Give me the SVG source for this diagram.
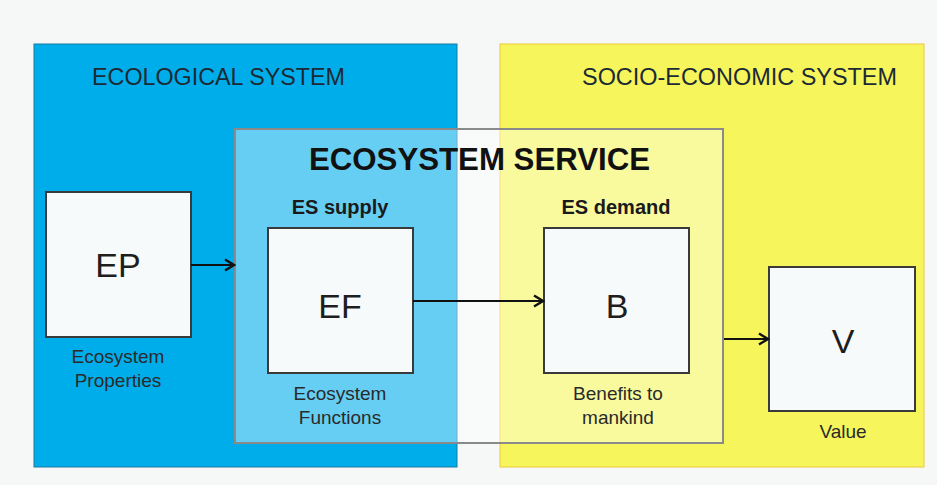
<svg xmlns="http://www.w3.org/2000/svg" width="937" height="485" viewBox="0 0 937 485">
<defs>
<marker id="arr" markerWidth="14" markerHeight="14" refX="12" refY="7" orient="auto" markerUnits="userSpaceOnUse">
<polyline points="3,1.5 12,7 3,12.5" fill="none" stroke="#111" stroke-width="2.4" stroke-linejoin="miter"/>
</marker>
</defs>
<style>
text{font-family:"Liberation Sans",Arial,sans-serif;fill:#1e1e1e}
.sys{font-size:23px;fill:#1c2a34}
.title{font-size:31px;font-weight:bold;fill:#111}
.sub{font-size:20px;font-weight:bold;fill:#1a1a1a}
.big{font-size:34px;text-anchor:middle}
.lbl{font-size:19px;text-anchor:middle;fill:#2a2a2a}
.box{fill:#f7fafa;stroke:#3a3a3a;stroke-width:2}
.conn{stroke:#111;stroke-width:2.2;fill:none;marker-end:url(#arr)}
</style>
<rect width="937" height="485" fill="#f6f8f8"/>
<g id="ecological-system">
<rect x="34" y="44" width="423" height="423" fill="#00adeb" stroke="#1878a0" stroke-width="1"/>
<text class="sys" x="92" y="85" textLength="253" lengthAdjust="spacingAndGlyphs">ECOLOGICAL SYSTEM</text>
</g>
<g id="socio-economic-system">
<rect x="500" y="44" width="424" height="423" fill="#f6f65c" stroke="#f0c838" stroke-width="1"/>
<text class="sys" x="582" y="85" textLength="315" lengthAdjust="spacingAndGlyphs">SOCIO-ECONOMIC SYSTEM</text>
</g>
<g id="ecosystem-service">
<rect x="235" y="129" width="488" height="314" fill="#ffffff" fill-opacity="0.4" stroke="#8a8a8a" stroke-width="2"/>
<text class="title" x="309" y="170" textLength="341" lengthAdjust="spacingAndGlyphs">ECOSYSTEM SERVICE</text>
<text class="sub" x="340" y="214" text-anchor="middle">ES supply</text>
<text class="sub" x="616" y="214" text-anchor="middle">ES demand</text>
</g>
<g id="EP">
<rect class="box" x="46" y="192" width="145" height="145"/>
<text class="big" x="118" y="277">EP</text>
<text class="lbl" x="118" y="363">Ecosystem</text>
<text class="lbl" x="118" y="387">Properties</text>
</g>
<g id="EF">
<rect class="box" x="268" y="228" width="145" height="145"/>
<text class="big" x="340" y="318">EF</text>
<text class="lbl" x="340" y="400">Ecosystem</text>
<text class="lbl" x="340" y="424">Functions</text>
</g>
<g id="B">
<rect class="box" x="544" y="228" width="145" height="145"/>
<text class="big" x="617" y="318">B</text>
<text class="lbl" x="618" y="400">Benefits to</text>
<text class="lbl" x="618" y="424">mankind</text>
</g>
<g id="V">
<rect class="box" x="769" y="267" width="146" height="144"/>
<text class="big" x="843" y="353">V</text>
<text class="lbl" x="843" y="438">Value</text>
</g>
<g id="connectors">
<line class="conn" x1="191" y1="265" x2="234" y2="265"/>
<line class="conn" x1="413" y1="301" x2="543" y2="301"/>
<line class="conn" x1="724" y1="339" x2="768" y2="339"/>
</g>
</svg>
